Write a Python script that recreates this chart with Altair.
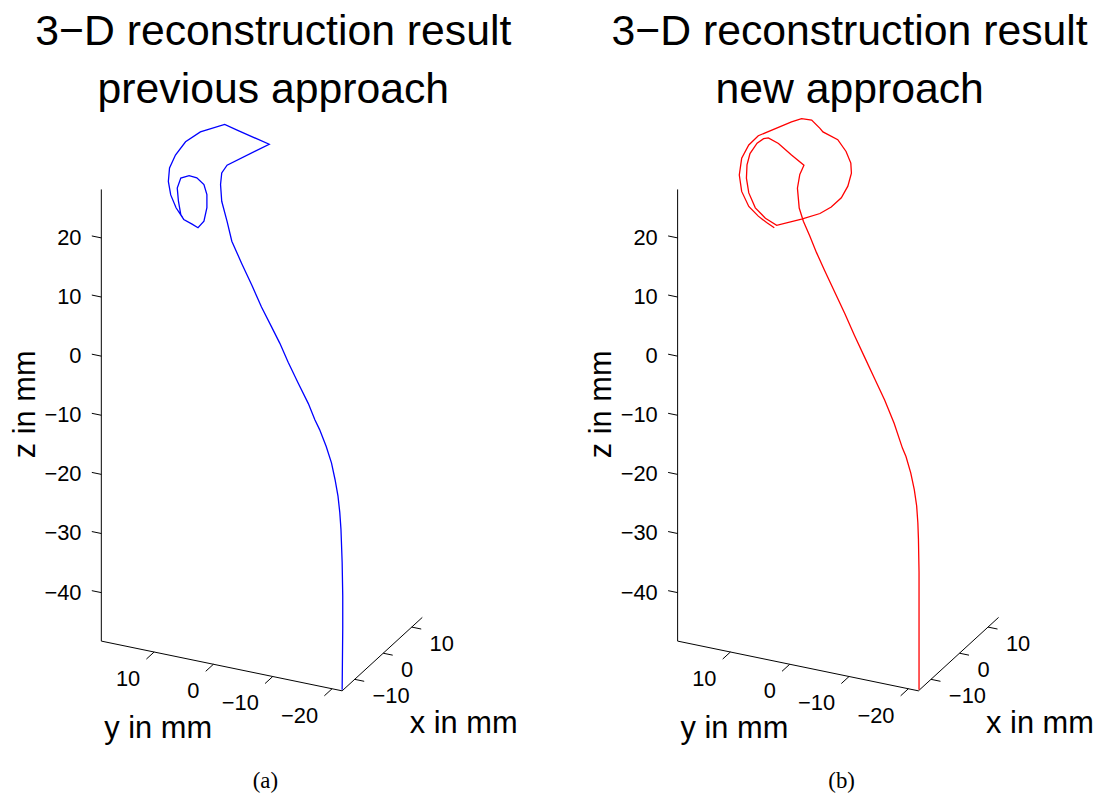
import altair as alt
import numpy as np
import pandas as pd

# ---------------- data (mm) ----------------
X_LIM = [-14.4, 13.7]
Y_LIM = [-21.7, 18.9]
Z_LIM = [-48.2, 28.2]
X_TICKS = [-10, 0, 10]
Y_TICKS = [-20, -10, 0, 10]
Z_TICKS = [-40, -30, -20, -10, 0, 10, 20]

# reconstructed curve, previous approach (y, z), taken in the plane x = x_min
PREV_Y = [-21.7, -21.8, -21.8, -21.7, -21.5, -21.3, -21.0, -20.5, -19.9, -19.0,
          -17.9, -17.1, -16.0, -14.3, -12.6, -11.2, -9.8, -8.1, -6.5, -4.8,
          -3.1, -2.3, -1.4, -1.2, -1.4, -2.3, -9.4, -3.9, -1.9, 2.2,
          4.7, 6.4, 7.4, 7.6, 7.2, 6.3, 5.0, 3.6, 2.6, 1.6,
          1.1, 1.1, 1.6, 2.8, 4.1, 5.5, 6.1, 5.9, 5.5, 5.2]
PREV_Z = [-48.0, -37.6, -32.1, -26.5, -20.9, -18.1, -15.4, -12.7, -10.0, -7.4,
          -4.8, -3.3, -0.8, 2.3, 5.5, 8.4, 10.9, 13.9, 17.2, 20.5,
          24.0, 27.2, 30.4, 33.2, 35.2, 36.7, 41.7, 43.0, 43.5, 41.4,
          39.2, 36.6, 34.2, 31.9, 29.7, 27.7, 26.0, 25.5, 25.1, 26.4,
          28.8, 31.0, 32.6, 33.5, 33.6, 32.9, 31.1, 28.9, 26.7, 26.3]

# reconstructed curve, new approach (y, z), taken in the plane x = x_min
NEW_Y = [-21.8, -21.8, -21.7, -21.6, -21.4, -21.0, -20.4, -19.6, -19.0, -17.6,
         -16.0, -14.3, -12.6, -10.9, -9.3, -7.6, -5.9, -4.5, -3.4, -2.3,
         -1.6, -1.3, -1.7, -2.4, -0.3, 1.9, 3.6, 4.4, 5.5, 6.7,
         7.2, 7.3, 6.9, 5.8, 4.1, 2.2, -2.0, -5.1, -7.0, -8.7,
         -9.8, -10.4, -10.3, -9.5, -8.1, -5.6, -5.1, -3.7, -2.0, -0.3,
         5.3, 6.9, 8.1, 8.5, 8.1, 6.9, 5.3, 3.9, 2.6]
NEW_Z = [-48.0, -28.1, -22.5, -19.8, -17.0, -14.3, -11.6, -9.0, -7.7, -3.8,
         -0.2, 3.1, 6.4, 9.7, 13.0, 16.3, 19.6, 22.4, 24.9, 27.2,
         29.3, 32.6, 35.0, 36.7, 38.0, 39.5, 40.1, 39.8, 38.8, 36.8,
         34.8, 32.5, 30.1, 27.8, 26.4, 25.6, 27.5, 29.1, 30.6, 32.5,
         34.7, 37.0, 38.7, 40.5, 42.2, 43.0, 43.5, 44.6, 44.5, 43.6,
         40.1, 38.2, 35.7, 32.8, 30.1, 27.8, 26.5, 25.7, 25.1]

TITLES = [["3\u2212D reconstruction result", "previous approach"],
          ["3\u2212D reconstruction result", "new approach"]]
CAPTIONS = ["(a)", "(b)"]
COLORS = ["#0000ff", "#ff0000"]

# ---------------- view / projection ----------------
W, H = 515, 780
SPACING = 65
U0, V0 = 336.3, 684.7          # screen position of corner (x_min, y_min, z_min)
EX = (2.87, -2.63)             # screen shift per mm of x
EY = (-5.97, -1.233)           # screen shift per mm of y
EZ = (0.0, -5.95)              # screen shift per mm of z
FONT = "Liberation Sans"


def proj(x, y, z):
    x = np.asarray(x, float) - X_LIM[0]
    y = np.asarray(y, float) - Y_LIM[0]
    z = np.asarray(z, float) - Z_LIM[0]
    return U0 + x * EX[0] + y * EY[0] + z * EZ[0], V0 + x * EX[1] + y * EY[1] + z * EZ[1]


XS = alt.Scale(domain=[0, W], nice=False, zero=False)
YS = alt.Scale(domain=[0, H], nice=False, zero=False, reverse=True)


def enc_xy():
    return dict(x=alt.X("u:Q", scale=XS, axis=None), y=alt.Y("v:Q", scale=YS, axis=None))


def seg_df(p0, p1):
    rows = []
    for a, b in zip(p0, p1):
        u, v = proj(*a)
        u2, v2 = proj(*b)
        rows.append({"u": float(u), "v": float(v), "u2": float(u2), "v2": float(v2)})
    return pd.DataFrame(rows)


def panel(cy, cz, color, title, caption):
    x0, x1 = X_LIM
    y0, y1 = Y_LIM
    z0, z1 = Z_LIM
    # box axes
    axes = seg_df([(x0, y1, z0), (x0, y1, z0), (x0, y0, z0)],
                  [(x0, y1, z1), (x0, y0, z0), (x1, y0, z0)])
    # ticks
    zt = seg_df([(x0, y1, t) for t in Z_TICKS], [(x0, y1 + 1.6, t) for t in Z_TICKS])
    yt = seg_df([(x0, t, z0) for t in Y_TICKS], [(x0 - 2.7, t, z0) for t in Y_TICKS])
    xt = seg_df([(t, y0, z0) for t in X_TICKS], [(t, y0 - 1.6, z0) for t in X_TICKS])
    ticks = pd.concat([zt, yt, xt], ignore_index=True)

    def lab_df(pts, vals):
        u, v = proj(*np.array(pts).T)
        return pd.DataFrame({"u": u, "v": v,
                             "lab": [str(t).replace("-", "\u2212") for t in vals]})

    zl = lab_df([(x0, y1, t) for t in Z_TICKS], Z_TICKS)
    yl = lab_df([(x0, t, z0) for t in Y_TICKS], Y_TICKS)
    xl = lab_df([(t, y0, z0) for t in X_TICKS], X_TICKS)

    cu, cv = proj([x0] * len(cy), cy, cz)
    curve = pd.DataFrame({"u": cu, "v": cv, "i": np.arange(len(cu))})

    rule_enc = dict(x=alt.X("u:Q", scale=XS, axis=None), x2="u2:Q",
                    y=alt.Y("v:Q", scale=YS, axis=None), y2="v2:Q")

    layers = [
        alt.Chart(axes).mark_rule(color="black", strokeWidth=1).encode(**rule_enc),
        alt.Chart(ticks).mark_rule(color="black", strokeWidth=1).encode(**rule_enc),
        alt.Chart(curve).mark_line(color=color, strokeWidth=1.3).encode(
            **enc_xy(), order="i:Q"),
        alt.Chart(zl).mark_text(align="right", baseline="middle", dx=-20, fontSize=22,
                                font=FONT, color="black").encode(**enc_xy(), text="lab:N"),
        alt.Chart(yl).mark_text(align="right", baseline="middle", dx=-14, dy=27, fontSize=22,
                                font=FONT, color="black").encode(**enc_xy(), text="lab:N"),
        alt.Chart(xl).mark_text(align="left", baseline="middle", dx=18, dy=17, fontSize=22,
                                font=FONT, color="black").encode(**enc_xy(), text="lab:N"),
    ]
    # axis titles anchored at axis midpoints
    mz = lab_df([(x0, y1, (z0 + z1) / 2)], ["z in mm"])
    my = lab_df([(x0, (y0 + y1) / 2, z0)], ["y in mm"])
    mx = lab_df([((x0 + x1) / 2, y0, z0)], ["x in mm"])
    layers += [
        alt.Chart(mz).mark_text(angle=270, align="center", baseline="middle", dx=11, dy=-76,
                                fontSize=31, font=FONT, color="black").encode(**enc_xy(), text="lab:N"),
        alt.Chart(my).mark_text(align="center", baseline="middle", dx=-64, dy=63,
                                fontSize=31, font=FONT, color="black").encode(**enc_xy(), text="lab:N"),
        alt.Chart(mx).mark_text(align="center", baseline="middle", dx=82, dy=70,
                                fontSize=31, font=FONT, color="black").encode(**enc_xy(), text="lab:N"),
    ]
    one = pd.DataFrame({"k": [0]})
    layers += [
        alt.Chart(one).mark_text(text=title, align="center", baseline="alphabetic",
                                 fontSize=43, lineHeight=58, font=FONT, color="black").encode(
            x=alt.value(267), y=alt.value(35)),
        alt.Chart(one).mark_text(text=caption, align="center", baseline="middle",
                                 fontSize=23, font="Liberation Serif", color="black").encode(
            x=alt.value(259), y=alt.value(775)),
    ]
    return alt.layer(*layers).properties(width=W, height=H)


left = panel(PREV_Y, PREV_Z, COLORS[0], TITLES[0], CAPTIONS[0])
right = panel(NEW_Y, NEW_Z, COLORS[1], TITLES[1], CAPTIONS[1])

chart = alt.hconcat(left, right, spacing=SPACING, bounds="flush").properties(
    padding=0, background="white"
).configure_view(stroke=None)

chart.save("out.html", embed_options={"renderer": "svg", "actions": False})
